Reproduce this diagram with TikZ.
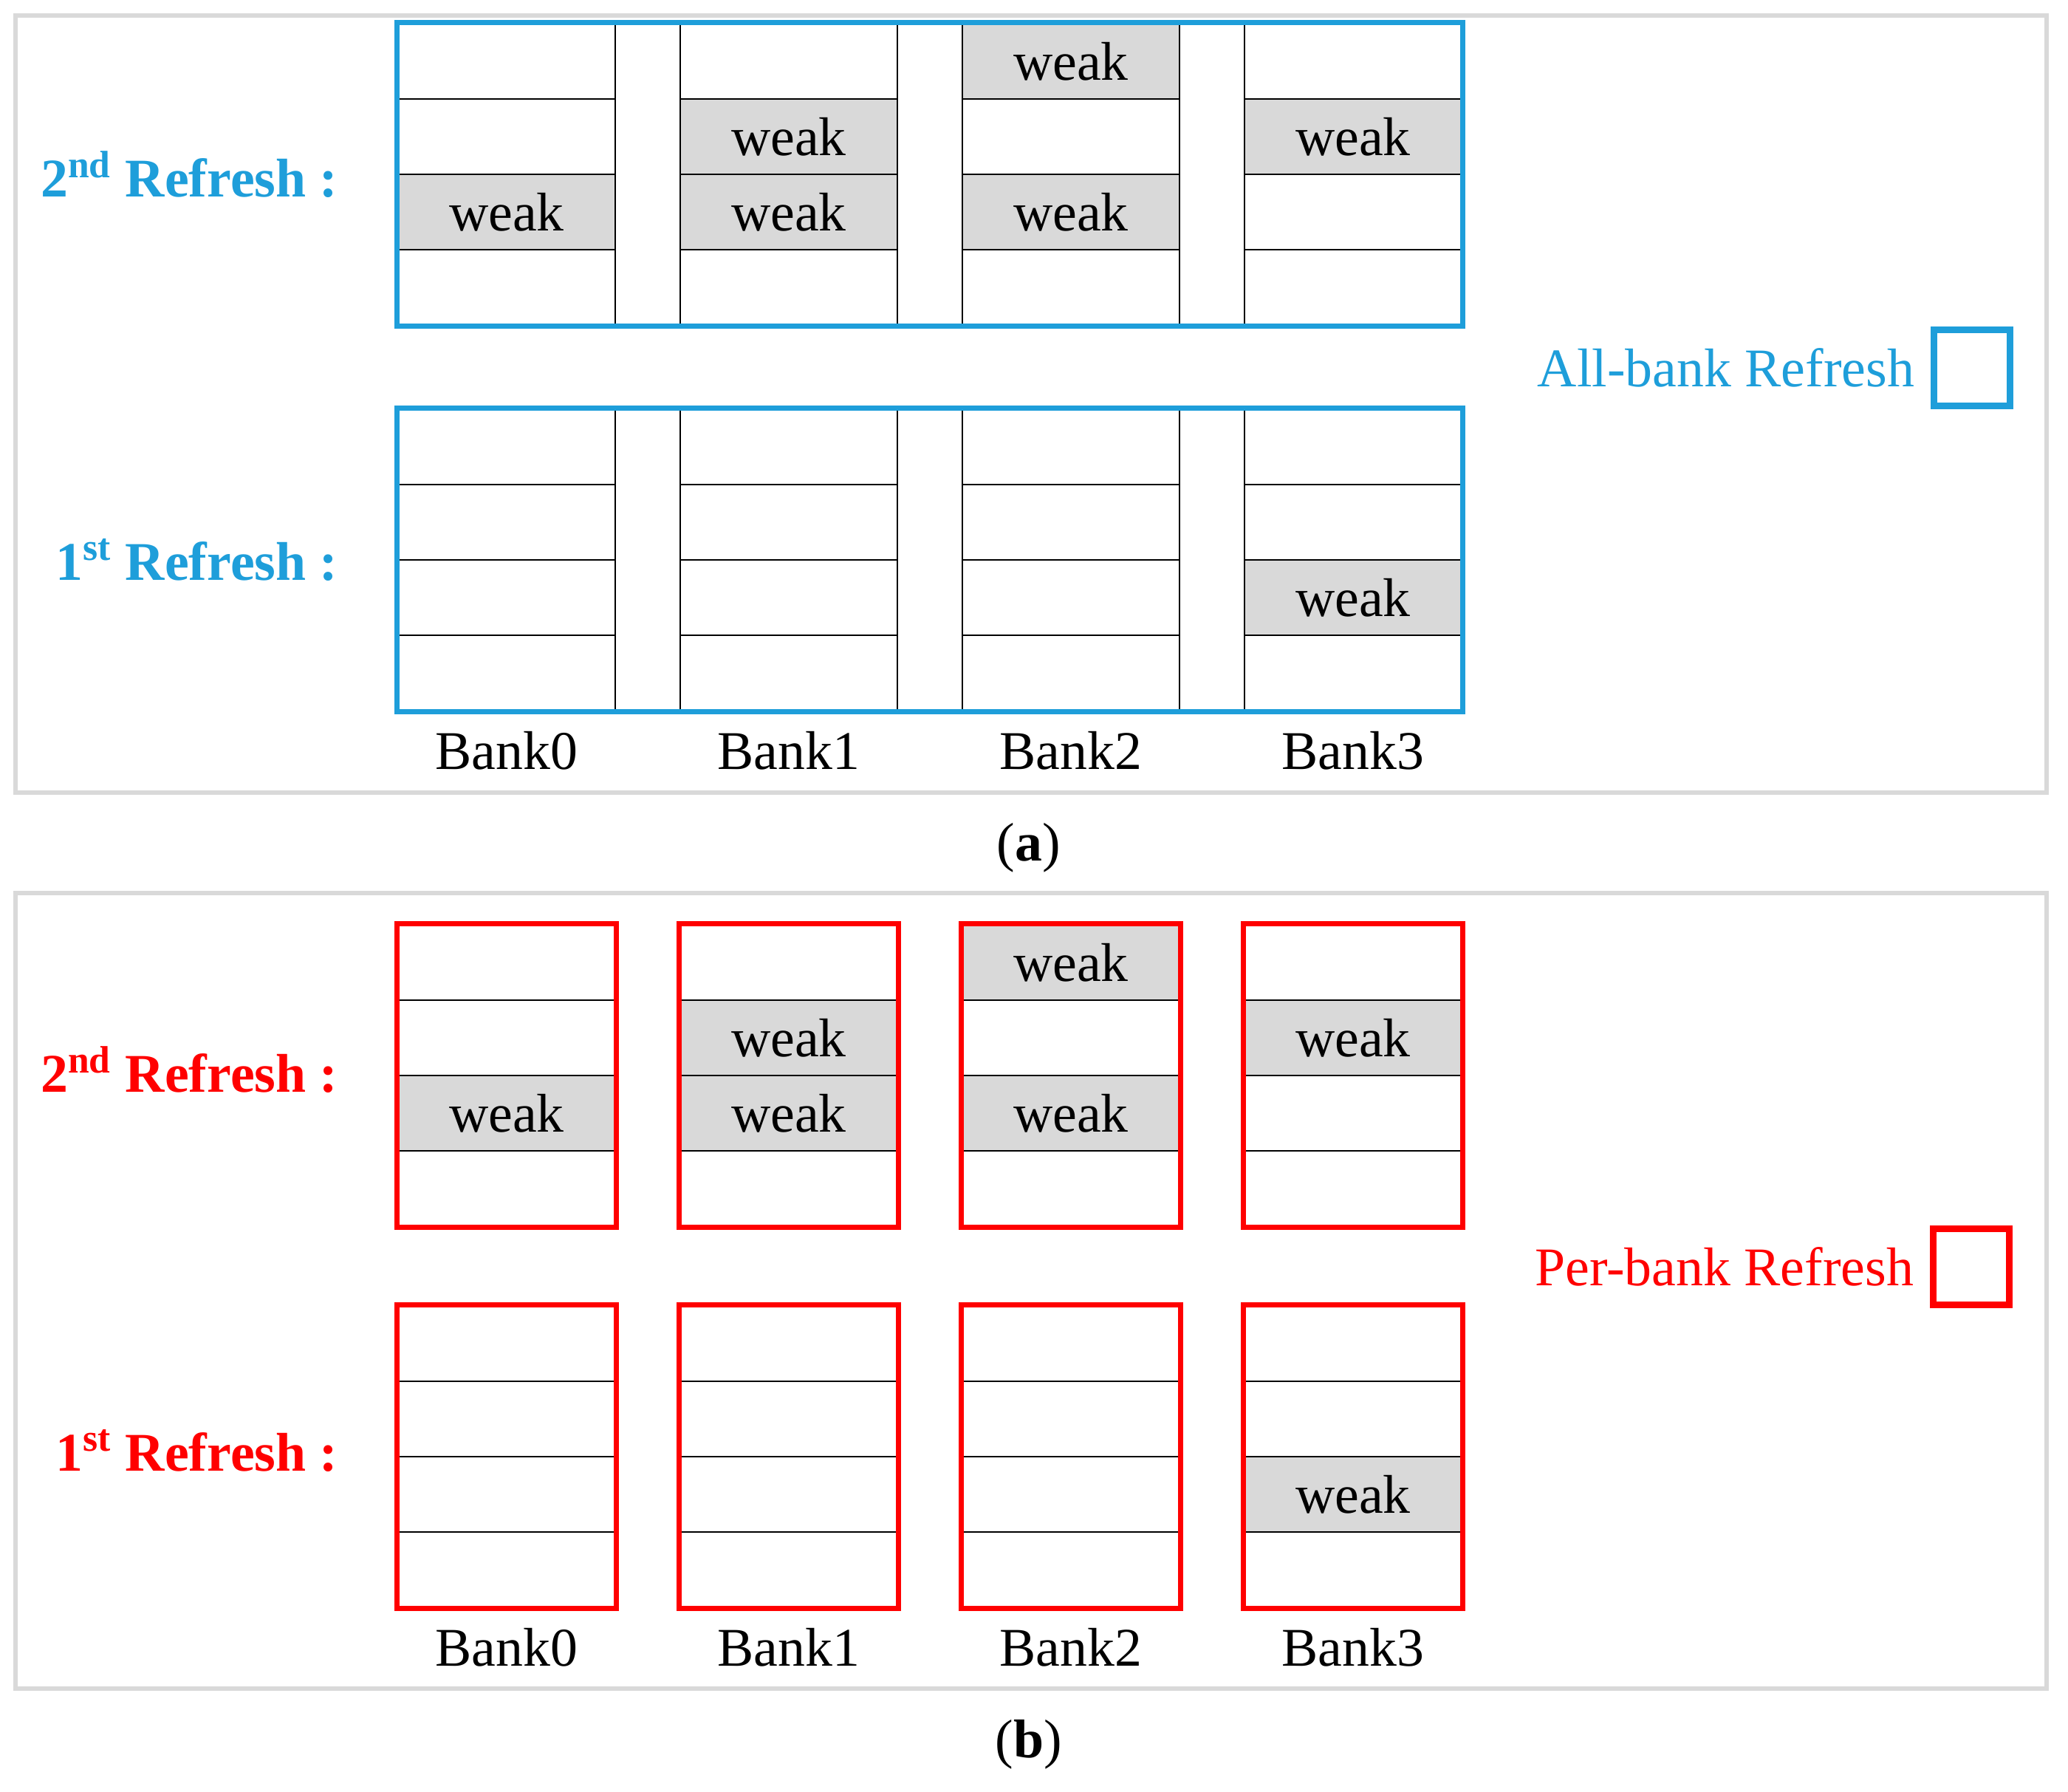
\documentclass[tikz,border=0pt]{standalone}
\usepackage{fontspec}
\setmainfont{Liberation Serif}
\usetikzlibrary{positioning, fit}

\definecolor{abblue}{RGB}{30,158,218}
\definecolor{pbred}{RGB}{255,0,0}
\definecolor{weakgray}{RGB}{217,217,217}
\definecolor{framegray}{RGB}{217,217,217}

\begin{document}
\begin{tikzpicture}[font=\fontsize{21}{25}\selectfont]
        \useasboundingbox (0,0) rectangle (28,-24.26);

        % Styles
        \tikzstyle{cell} = [rectangle, draw=black, line width=0.8pt, minimum width=2.94cm, minimum height=1.02cm, inner sep=0pt]
        \tikzstyle{weakcell} = [cell, fill=weakgray]
        \tikzstyle{allbank} = [rectangle, draw=abblue, line width=1.9pt, inner sep=0pt]
        \tikzstyle{perbank} = [rectangle, draw=pbred, line width=1.9pt, inner sep=0pt]
        \tikzstyle{rowlabel} = [inner sep=0pt, font=\fontsize{21}{25}\selectfont\bfseries]
        \tikzstyle{banklabel} = [inner sep=0pt]
        \tikzstyle{legendbox} = [rectangle, line width=2.6pt, minimum size=1.03cm, inner sep=0pt]
        \tikzstyle{legendtext} = [inner sep=0pt]
        \tikzstyle{frame} = [draw=framegray, line width=1.6pt]

        % Panel frames
        \draw [frame] (0.21,-0.21) rectangle (27.71,-10.73);
        \draw [frame] (0.21,-12.09) rectangle (27.71,-22.86);

        % Cells: 4 banks x 4 rows for each refresh
        \foreach \g/\ytop in {A2/-0.32, A1/-5.54, B2/-12.52, B1/-17.68}
          \foreach \bk/\x in {0/6.86, 1/10.68, 2/14.50, 3/18.32}
            \foreach \rw in {0,...,3}
              \node [cell] (\g b\bk r\rw) at (\x, {\ytop-0.51-1.02*\rw}) {};

        % Weak rows
        \foreach \w in {A2b0r2, A2b1r1, A2b1r2, A2b2r0, A2b2r2, A2b3r1, A1b3r2,
                        B2b0r2, B2b1r1, B2b1r2, B2b2r0, B2b2r2, B2b3r1, B1b3r2}
          \node [weakcell] (\w w) at (\w) {weak};

        % (a) all-bank refresh
        \node [allbank, fit=(A2b0r0)(A2b3r3)] (A2box) {};
        \node [allbank, fit=(A1b0r0)(A1b3r3)] (A1box) {};
        \node [rowlabel, text=abblue, left=0.76cm of A2box] (A2lab) {2\textsuperscript{nd} Refresh :};
        \node [rowlabel, text=abblue, left=0.76cm of A1box] (A1lab) {1\textsuperscript{st} Refresh :};
        \foreach \bk in {0,...,3}
          \node [banklabel, below=0.26cm of A1b\bk r3] (Abank\bk) {Bank\bk};
        \node [legendbox, draw=abblue] (Aleg) at (26.70,-4.98) {};
        \node [legendtext, text=abblue, left=0.21cm of Aleg] (Alegtext) {All-bank Refresh};
        \node (capa) at (13.93,-11.48) {(\textbf{a})};

        % (b) per-bank refresh
        \foreach \bk in {0,...,3} {
          \node [perbank, fit=(B2b\bk r0)(B2b\bk r3)] (B2box\bk) {};
          \node [perbank, fit=(B1b\bk r0)(B1b\bk r3)] (B1box\bk) {};
          \node [banklabel, below=0.26cm of B1b\bk r3] (Bbank\bk) {Bank\bk};
        }
        \node [rowlabel, text=pbred, left=0.76cm of B2box0, yshift=0.08cm] (B2lab) {2\textsuperscript{nd} Refresh :};
        \node [rowlabel, text=pbred, left=0.76cm of B1box0, yshift=0.08cm] (B1lab) {1\textsuperscript{st} Refresh :};
        \node [legendbox, draw=pbred] (Bleg) at (26.69,-17.15) {};
        \node [legendtext, text=pbred, left=0.21cm of Bleg] (Blegtext) {Per-bank Refresh};
        \node (capb) at (13.93,-23.62) {(\textbf{b})};

    \end{tikzpicture}
\end{document}
